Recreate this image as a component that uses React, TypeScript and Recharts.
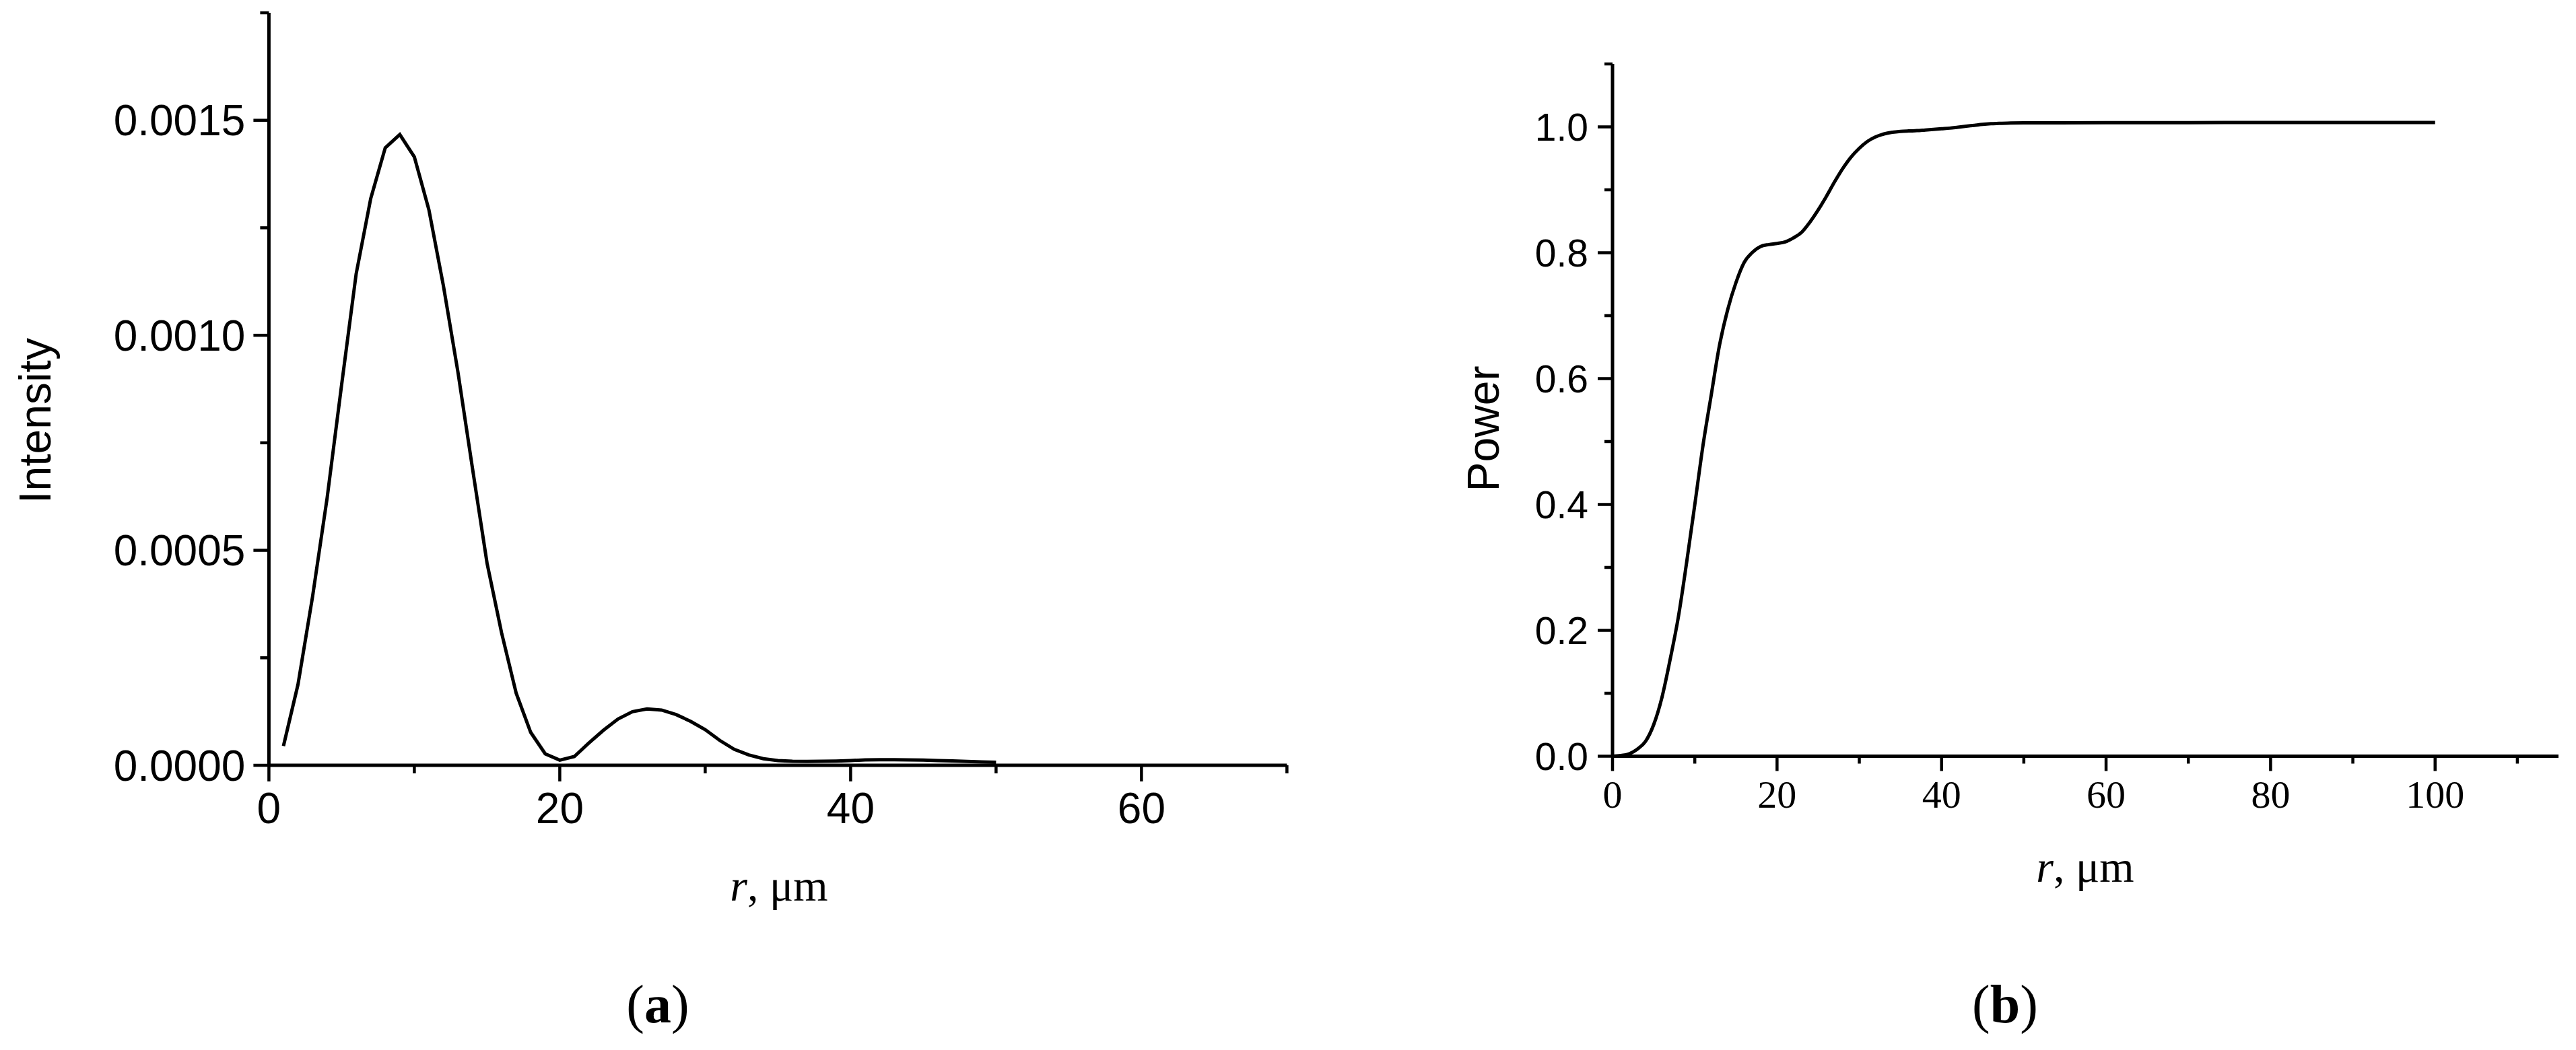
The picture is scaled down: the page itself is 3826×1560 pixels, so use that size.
import React from 'react';
import { LineChart, Line, XAxis, YAxis } from 'recharts';

// ---------- Panel (a): Intensity vs r ----------
const rA = [
  1, 2, 3, 4, 5, 6, 7, 8, 9, 10,
  11, 12, 13, 14, 15, 16, 17, 18, 19, 20,
  21, 22, 23, 24, 25, 26, 27, 28, 29, 30,
  31, 32, 33, 34, 35, 36, 37, 38, 39, 40,
  41, 42, 43, 44, 45, 46, 47, 48, 49, 50,
];
const intensityA = [
  0.0000449, 0.000188, 0.000392, 0.000621, 0.000885, 0.001143, 0.001318, 0.001436, 0.001467, 0.001415,
  0.001292, 0.001115, 0.000914, 0.00069, 0.00047, 0.000308, 0.000168, 0.0000767, 0.0000266, 0.000012,
  0.0000204, 0.0000517, 0.0000814, 0.0001075, 0.0001248, 0.000131, 0.0001284, 0.0001179, 0.0001022, 0.000083,
  0.0000579, 0.0000371, 0.000024, 0.0000152, 0.000011, 0.0000094, 0.000009, 0.0000094, 0.0000099, 0.000011,
  0.0000125, 0.000013, 0.000013, 0.0000125, 0.000012, 0.000011, 0.00001, 0.000009, 0.000008, 0.000007,
];
const xTicksA = [0, 10, 20, 30, 40, 50, 60, 70];
const xMajorA = [0, 20, 40, 60];
const yTicksA = [0, 0.00025, 0.0005, 0.00075, 0.001, 0.00125, 0.0015, 0.00175];
const yMajorA = [0, 0.0005, 0.001, 0.0015];

// ---------- Panel (b): Power vs r ----------
const rB = [
  0, 1, 2, 3, 4, 5, 6, 7, 8, 9, 10,
  11, 12, 13, 14, 15, 16, 17, 18, 19, 20,
  21, 22, 23, 24, 25, 26, 27, 28, 29, 30,
  31, 32, 33, 34, 35, 36, 37, 38, 39, 40,
  41, 42, 43, 44, 45, 46, 47, 48, 50, 60, 70, 80, 90, 100,
];
const powerB = [
  0, 0.001, 0.0037, 0.011, 0.0233, 0.05, 0.093, 0.1535, 0.221, 0.307, 0.3995,
  0.494, 0.574, 0.6526, 0.7096, 0.7524, 0.7845, 0.8005, 0.81, 0.813, 0.8147,
  0.8173, 0.8237, 0.8326, 0.8487, 0.868, 0.8896, 0.9128, 0.934, 0.952, 0.966,
  0.977, 0.9842, 0.9888, 0.9914, 0.9928, 0.9935, 0.994, 0.995, 0.996, 0.997,
  0.998, 0.9995, 1.001, 1.0025, 1.004, 1.005, 1.0055, 1.006, 1.0063, 1.0066, 1.0068, 1.0069, 1.007, 1.007,
];
const xTicksB = [0, 10, 20, 30, 40, 50, 60, 70, 80, 90, 100, 110];
const xMajorB = [0, 20, 40, 60, 80, 100];
const yTicksB = [0, 0.1, 0.2, 0.3, 0.4, 0.5, 0.6, 0.7, 0.8, 0.9, 1.0, 1.1];
const yMajorB = [0, 0.2, 0.4, 0.6, 0.8, 1.0];

const dataA = rA.map((r, i) => ({ r, v: intensityA[i] }));
const dataB = rB.map((r, i) => ({ r, v: powerB[i] }));

const SANS = "'Liberation Sans', Arial, sans-serif";
const SERIF = "'Liberation Serif', 'Times New Roman', serif";

const isIn = (arr: number[], v: number) => arr.some((m) => Math.abs(m - v) < 1e-9);

function BottomTick(props: any) {
  const { x, y, payload, majors, size, margin, majorLen, minorLen, family, fontSize, sw, digits } = props;
  const axisY = y - margin - size;
  const major = isIn(majors, payload.value);
  return (
    <g>
      <line x1={x} x2={x} y1={axisY} y2={axisY + (major ? majorLen : minorLen)} stroke="#000" strokeWidth={sw} />
      {major && (
        <text x={x} y={y} dy="0.71em" textAnchor="middle" fontFamily={family} fontSize={fontSize} fill="#000">
          {Number(payload.value).toFixed(digits)}
        </text>
      )}
    </g>
  );
}

function LeftTick(props: any) {
  const { x, y, payload, majors, size, margin, majorLen, minorLen, family, fontSize, sw, digits } = props;
  const axisX = x + margin + size;
  const major = isIn(majors, payload.value);
  return (
    <g>
      <line x1={axisX - (major ? majorLen : minorLen)} x2={axisX} y1={y} y2={y} stroke="#000" strokeWidth={sw} />
      {major && (
        <text x={x} y={y} dy="0.355em" textAnchor="end" fontFamily={family} fontSize={fontSize} fill="#000">
          {Number(payload.value).toFixed(digits)}
        </text>
      )}
    </g>
  );
}

export default function App() {
  return (
    <div style={{ position: 'absolute', left: 0, top: 0, width: 3826, height: 1560, background: '#fff', overflow: 'hidden' }}>
      {/* Panel (a) */}
      <div style={{ position: 'absolute', left: 0, top: 0 }}>
        <LineChart width={1960} height={1560} data={dataA} margin={{ top: 19, right: 48.6, bottom: 323, left: 99.4 }}>
          <XAxis
            type="number"
            dataKey="r"
            domain={[0, 70]}
            ticks={xTicksA}
            interval={0}
            allowDataOverflow
            height={100}
            tickSize={24}
            tickMargin={17}
            tickLine={false}
            axisLine={{ stroke: '#000', strokeWidth: 5 }}
            tick={(p: any) => (
              <BottomTick {...p} majors={xMajorA} size={24} margin={17} majorLen={24} minorLen={12} family={SANS} fontSize={64} sw={4.5} digits={0} />
            )}
          />
          <YAxis
            type="number"
            domain={[0, 0.00175]}
            ticks={yTicksA}
            interval={0}
            allowDataOverflow
            width={300}
            tickSize={23}
            tickMargin={12}
            tickLine={false}
            axisLine={{ stroke: '#000', strokeWidth: 5 }}
            tick={(p: any) => (
              <LeftTick {...p} majors={yMajorA} size={23} margin={12} majorLen={23} minorLen={13} family={SANS} fontSize={64} sw={4.5} digits={4} />
            )}
          />
          <Line type="linear" dataKey="v" stroke="#000" strokeWidth={5} dot={false} isAnimationActive={false} />
        </LineChart>
      </div>

      {/* Panel (b) */}
      <div style={{ position: 'absolute', left: 1960, top: 0 }}>
        <LineChart width={1866} height={1560} data={dataB} margin={{ top: 95, right: 26, bottom: 336.5, left: 135 }}>
          <XAxis
            type="number"
            dataKey="r"
            domain={[0, 115]}
            ticks={xTicksB}
            interval={0}
            allowDataOverflow
            height={100}
            tickSize={22}
            tickMargin={13}
            tickLine={false}
            axisLine={{ stroke: '#000', strokeWidth: 5 }}
            tick={(p: any) => (
              <BottomTick {...p} majors={xMajorB} size={22} margin={13} majorLen={22} minorLen={11} family={SERIF} fontSize={58} sw={4.5} digits={0} />
            )}
          />
          <YAxis
            type="number"
            domain={[0, 1.1]}
            ticks={yTicksB}
            interval={0}
            allowDataOverflow
            width={300}
            tickSize={22}
            tickMargin={14}
            tickLine={false}
            axisLine={{ stroke: '#000', strokeWidth: 5 }}
            tick={(p: any) => (
              <LeftTick {...p} majors={yMajorB} size={22} margin={14} majorLen={22} minorLen={12} family={SANS} fontSize={57} sw={4.5} digits={1} />
            )}
          />
          <Line type="monotone" dataKey="v" stroke="#000" strokeWidth={5} dot={false} isAnimationActive={false} />
        </LineChart>
      </div>

      {/* Titles and panel labels */}
      <svg width={3826} height={1560} style={{ position: 'absolute', left: 0, top: 0, pointerEvents: 'none' }}>
        <text transform="translate(75,625) rotate(-90)" textAnchor="middle" fontFamily={SANS} fontSize={66} fill="#000">
          Intensity
        </text>
        <text transform="translate(2226,637) rotate(-90)" textAnchor="middle" fontFamily={SANS} fontSize={66} fill="#000">
          Power
        </text>
        <text x={1157} y={1338} textAnchor="middle" fontFamily={SERIF} fontSize={66} fill="#000">
          <tspan fontStyle="italic">r</tspan>, μm
        </text>
        <text x={3097} y={1310} textAnchor="middle" fontFamily={SERIF} fontSize={66} fill="#000">
          <tspan fontStyle="italic">r</tspan>, μm
        </text>
        <text x={977} y={1519} textAnchor="middle" fontFamily={SERIF} fontSize={80} fill="#000">
          (<tspan fontWeight="bold">a</tspan>)
        </text>
        <text x={2978} y={1519} textAnchor="middle" fontFamily={SERIF} fontSize={80} fill="#000">
          (<tspan fontWeight="bold">b</tspan>)
        </text>
      </svg>
    </div>
  );
}
